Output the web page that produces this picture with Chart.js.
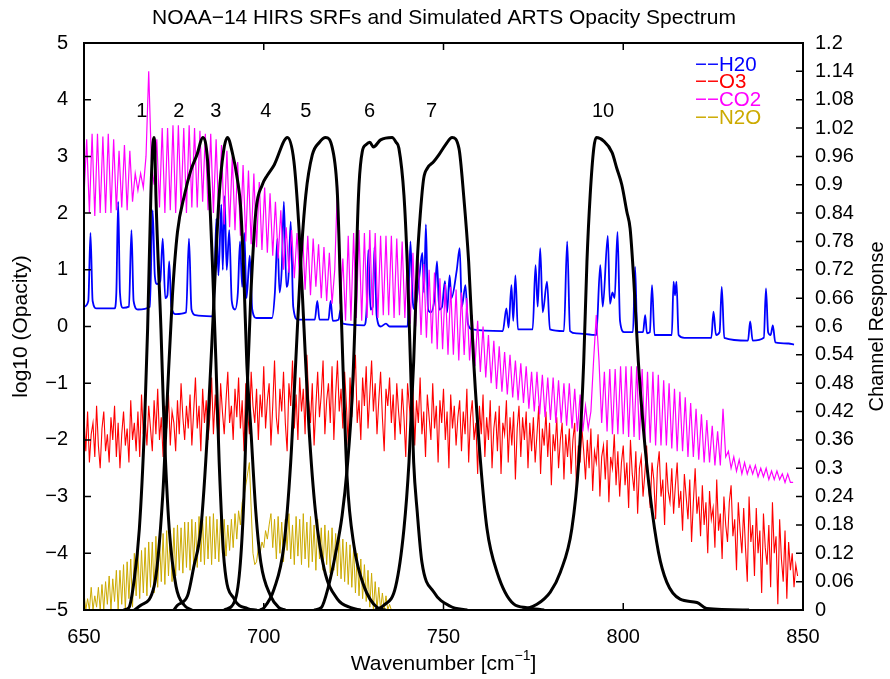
<!DOCTYPE html>
<html>
<head>
<meta charset="utf-8">
<script src="https://cdn.jsdelivr.net/npm/chart.js@4/dist/chart.umd.min.js"></script>
<style>html,body{margin:0;padding:0;background:#fff}</style>
</head>
<body>
<canvas id="chart" width="890" height="679"></canvas>
<script>
const FONT = '"Liberation Sans", Arial, Helvetica, sans-serif';

// axis ticks
const xTicks = [650, 700, 750, 800, 850];
const leftTicks = [-5, -4, -3, -2, -1, 0, 1, 2, 3, 4, 5];
const rightTicks = [0, 0.06, 0.12, 0.18, 0.24, 0.3, 0.36, 0.42, 0.48, 0.54, 0.6, 0.66, 0.72, 0.78, 0.84, 0.9, 0.96, 1.02, 1.08, 1.14, 1.2];
const rightTickLabels = ['0','0.06','0.12','0.18','0.24','0.3','0.36','0.42','0.48','0.54','0.6','0.66','0.72','0.78','0.84','0.9','0.96','1.02','1.08','1.14','1.2'];

// channel labels (wavenumber, log10 opacity height)
const chNames = ['1', '2', '3', '4', '5', '6', '7', '10'];
const chLabelWn = [666.1, 676.4, 686.7, 700.6, 711.7, 729.4, 746.7, 794.4];
const chLabelY = 3.8;

// CO2 on a 0.75 cm-1 grid from 650
const co2Start = 650, co2Step = 0.75;
const co2Val = [
  2.3, 3.3, 2.0, 3.4, 1.95, 3.4, 2.0, 3.35,
  2.0, 3.4, 2.0, 3.3, 2.05, 3.1, 2.1, 3.2,
  2.05, 3.1, 2.2, 2.7, 2.4, 2.7, 2.45, 3.0,
  4.5, 2.9, 2.5, 3.3, 2.1, 3.5, 2.0, 3.5,
  2.05, 3.55, 2.0, 3.55, 2.1, 3.5, 2.0, 3.55,
  2.1, 3.5, 2.1, 3.45, 2.2, 3.4, 2.05, 3.4,
  2.0, 3.3, 1.9, 3.2, 1.8, 3.1, 1.75, 3.0,
  1.7, 2.9, 1.6, 2.85, 1.5, 2.75, 1.45, 2.7,
  1.4, 2.55, 1.35, 2.45, 1.3, 2.35, 1.25, 2.2,
  1.2, 2.05, 1.0, 1.75, 0.95, 1.7, 0.85, 1.65,
  0.8, 1.7, 0.65, 1.6, 0.55, 1.55, 0.7, 1.45,
  0.5, 1.4, 0.45, 1.3, 0.4, 1.0, 2.5, 0.4,
  1.2, 0.1, 1.6, 0.1, 1.65, 0.15, 1.7, 0.1,
  1.65, 0.15, 1.7, 0.2, 1.65, 0.15, 1.6, 0.2,
  1.6, 0.2, 1.6, 0.15, 1.55, 0.2, 1.5, 0.15,
  1.35, 0.05, 1.3, 0.0, 1.2, -0.15, 1.1, -0.2,
  1.0, -0.3, 0.95, -0.4, 0.85, -0.4, 0.75, -0.5,
  0.7, -0.5, 0.65, -0.6, 0.6, -0.5, 0.5, -0.6,
  0.2, -0.7, 0.1, -0.8, 0.0, -0.9, -0.15, -1.0,
  -0.25, -1.1, -0.35, -1.15, -0.45, -1.2, -0.5, -1.25,
  -0.6, -1.3, -0.65, -1.35, -0.7, -1.45, -0.8, -1.5,
  -0.8, -1.55, -0.85, -1.6, -0.9, -1.65, -0.9, -1.7,
  -0.95, -1.7, -1.0, -1.75, -1.0, -1.8, -1.1, -1.85,
  -1.2, -1.85, -1.4, -1.8, -1.5, -0.6, 0.2, -0.6,
  -1.7, -0.8, -1.85, -0.75, -1.9, -0.75, -1.9, -0.7,
  -1.9, -0.7, -1.95, -0.7, -1.95, -0.7, -2.0, -0.75,
  -2.0, -0.8, -2.05, -0.8, -2.1, -0.85, -2.1, -0.95,
  -2.1, -1.0, -2.15, -1.1, -2.2, -1.15, -2.2, -1.25,
  -2.3, -1.35, -2.3, -1.45, -2.35, -1.55, -2.4, -1.65,
  -2.4, -1.75, -2.45, -1.85, -2.45, -1.45, -2.3, -2.2,
  -2.5, -2.3, -2.55, -2.35, -2.6, -2.4, -2.6, -2.45,
  -2.6, -2.45, -2.65, -2.5, -2.65, -2.5, -2.7, -2.55,
  -2.7, -2.55, -2.7, -2.6, -2.75, -2.6, -2.75, -2.75
];

// O3 on a 0.5 cm-1 grid from 650
const o3Start = 650, o3Step = 0.5;
const o3Val = [
  -1.6, -2.2, -1.5, -2.4, -1.9, -1.7, -2.3, -1.4, -2.1, -2.5,
  -1.8, -1.5, -2.2, -1.9, -2.4, -1.6, -2.0, -1.4, -2.3, -1.7,
  -2.5, -1.9, -1.5, -2.1, -1.8, -2.4, -1.3, -2.0, -1.7, -2.2,
  -1.5, -2.3, -1.2, -1.9, -1.6, -2.1, -1.4, -1.8, -2.2, -1.3,
  -1.9, -1.1, -2.0, -1.6, -2.3, -1.4, -1.8, -1.2, -2.1, -1.5,
  -1.7, -2.2, -1.3, -1.9, -1.0, -1.6, -2.0, -1.4, -1.8, -1.2,
  -2.1, -1.5, -0.9, -1.8, -1.4, -2.2, -1.1, -1.7, -1.3, -2.0,
  -1.6, -0.9, -1.9, -1.2, -1.7, -2.1, -1.0, -1.5, -1.9, -1.3,
  -0.8, -1.7, -1.4, -2.0, -1.1, -1.6, -0.9, -1.8, -1.3, -2.2,
  -1.0, -1.5, -1.9, -0.8, -1.4, -1.7, -1.1, -2.0, -1.2, -1.6,
  -0.7, -1.8, -1.3, -1.0, -2.1, -1.4, -0.6, -1.6, -1.9, -1.1,
  -1.5, -0.8, -1.7, -2.2, -1.0, -1.4, -0.6, -1.8, -1.2, -2.0,
  -0.9, -1.5, -1.1, -1.9, -0.5, -1.3, -1.7, -1.0, -2.1, -1.4,
  -0.8, -1.6, -1.2, -0.6, -1.9, -1.3, -1.0, -1.7, -0.7, -2.0,
  -1.2, -0.6, -1.5, -1.1, -1.8, -0.8, -1.4, -2.1, -0.9, -1.6,
  -1.0, -0.5, -1.7, -1.3, -2.0, -0.9, -1.4, -0.7, -1.8, -1.2,
  -0.6, -1.5, -1.0, -1.9, -1.3, -0.8, -1.6, -2.2, -1.1, -1.4,
  -0.9, -1.7, -1.2, -2.0, -1.0, -1.5, -1.9, -1.1, -1.6, -2.3,
  -1.0, -1.4, -1.8, -1.1, -2.1, -1.3, -1.7, -0.9, -1.9, -1.5,
  -2.3, -1.2, -1.6, -2.0, -1.0, -1.8, -1.4, -2.4, -1.3, -1.7,
  -1.1, -2.0, -1.5, -2.5, -1.2, -1.8, -1.4, -2.1, -1.6, -1.3,
  -2.2, -1.5, -1.9, -1.1, -2.4, -1.6, -1.3, -2.0, -1.7, -2.6,
  -1.4, -1.9, -1.2, -2.3, -1.6, -2.0, -1.3, -2.5, -1.8, -1.5,
  -2.2, -1.4, -2.6, -1.7, -1.9, -1.3, -2.4, -1.6, -2.1, -1.5,
  -2.7, -1.8, -1.4, -2.3, -1.6, -2.0, -1.5, -2.5, -1.7, -2.2,
  -1.6, -2.4, -1.9, -1.4, -2.6, -1.8, -2.1, -1.5, -2.3, -1.7,
  -2.8, -1.9, -2.2, -1.6, -2.5, -2.0, -1.7, -2.7, -1.9, -2.3,
  -1.8, -2.6, -2.0, -1.7, -2.9, -2.1, -2.4, -1.8, -2.2, -2.7,
  -2.0, -2.5, -1.8, -2.9, -2.2, -2.4, -1.9, -3.0, -2.3, -2.1,
  -2.7, -2.0, -3.1, -2.3, -2.5, -1.9, -2.8, -2.2, -3.0, -2.4,
  -2.1, -2.8, -2.4, -3.2, -2.0, -2.6, -2.9, -2.2, -3.3, -2.5,
  -2.3, -3.0, -2.6, -2.1, -2.8, -3.2, -2.4, -2.7, -3.4, -2.5,
  -2.2, -3.0, -2.7, -3.5, -2.4, -2.9, -3.1, -2.5, -3.3, -2.8,
  -2.4, -3.2, -2.9, -3.6, -2.6, -3.0, -3.4, -2.7, -3.8, -3.1,
  -2.5, -3.3, -3.0, -3.7, -2.8, -3.5, -3.1, -4.0, -2.9, -3.4,
  -3.2, -3.9, -2.7, -3.6, -3.3, -4.1, -3.0, -3.5, -3.8, -3.1,
  -2.8, -3.7, -3.4, -4.3, -3.1, -3.6, -4.0, -3.2, -3.9, -4.5,
  -3.0, -3.8, -3.5, -4.4, -3.2, -4.0, -3.6, -4.7, -3.3, -3.9,
  -4.2, -3.5, -4.6, -3.1, -4.0, -3.7, -4.9, -3.4, -4.1, -4.5,
  -3.6, -4.8, -3.8, -4.3, -4.0, -4.6, -4.2, -4.4
];

// N2O on a 0.5 cm-1 grid from 650
const n2oStart = 650, n2oStep = 0.5;
const n2oVal = [
  -4.7, -5.0, -4.8, -5.0, -4.6, -5.0, -4.75, -4.95, -4.6, -5.0,
  -4.55, -5.0, -4.5, -4.9, -4.4, -5.0, -4.45, -4.85, -4.3, -5.0,
  -4.3, -4.9, -4.2, -5.0, -4.15, -4.8, -4.1, -4.95, -4.0, -4.75,
  -4.0, -4.8, -3.95, -4.7, -3.9, -4.75, -3.8, -4.6, -3.8, -4.7,
  -3.7, -4.6, -3.75, -4.5, -3.65, -4.55, -3.6, -4.4, -3.6, -4.5,
  -3.55, -4.4, -3.5, -4.3, -3.55, -4.35, -3.45, -4.25, -3.45, -4.3,
  -3.4, -4.2, -3.45, -4.25, -3.35, -4.15, -3.4, -4.2, -3.35, -4.1,
  -3.35, -4.2, -3.3, -4.1, -3.4, -4.15, -3.35, -4.0, -3.4, -4.05,
  -3.5, -3.95, -3.4, -3.9, -3.3, -3.75, -3.25, -3.5, -3.1, -3.0,
  -2.8, -2.6, -2.4, -3.2, -4.0, -4.2, -4.15, -3.9, -4.0, -3.8,
  -3.9, -3.6, -3.75, -3.5, -3.3, -3.9, -3.4, -4.1, -3.35, -4.0,
  -3.45, -4.15, -3.4, -3.95, -3.3, -4.1, -3.5, -4.2, -3.35, -4.05,
  -3.4, -4.2, -3.3, -4.1, -3.45, -4.25, -3.35, -4.15, -3.5, -4.3,
  -3.4, -4.1, -3.55, -4.3, -3.5, -4.2, -3.6, -4.35, -3.55, -4.3,
  -3.65, -4.4, -3.6, -4.45, -3.75, -4.5, -3.8, -4.55, -3.85, -4.6,
  -3.9, -4.7, -4.0, -4.75, -4.1, -4.8, -4.2, -4.85, -4.3, -4.95,
  -4.35, -5.0, -4.5, -5.0, -4.6, -5.0, -4.7, -5.0, -4.75, -5.0,
  -4.9, -5.0, -5.0
];

// water vapour: baseline with sharp lines [wavenumber, log10 opacity]
const h2oPts = [
  [650,0.35],[651.2,0.45],[651.8,1.65],[652.4,0.45],[653.5,0.32],[658.5,0.32],[659,0.6],[659.5,2.2],[660,0.6],[660.8,0.33],
  [662.5,0.35],[663.2,1.7],[663.8,0.45],[665,0.3],[668.3,0.35],[669.1,2.05],[669.7,0.9],[670.3,0.75],[671.2,0.8],[671.9,1.55],
  [672.6,0.5],[673.2,0.55],[673.7,1.15],[674.3,0.35],[675.5,0.22],[678.4,0.25],[679.2,1.55],[679.9,0.3],[681,0.2],[685.5,0.18],
  [686.2,0.5],[686.8,1.9],[687.4,0.9],[688.2,2.15],[688.6,1.0],[689.1,2.3],[689.7,1.0],[690.4,1.7],[691.1,0.45],[692,0.3],
  [692.8,0.6],[693.4,1.5],[694,0.7],[694.6,1.65],[695.2,0.5],[696.1,1.25],[696.8,0.3],[698,0.15],[702.3,0.15],[703.1,0.6],
  [703.8,1.55],[704.4,0.6],[705,1.0],[705.6,2.2],[706.3,0.7],[706.9,0.9],[707.5,1.85],[708.2,0.35],[709.5,0.12],[714.2,0.12],
  [714.9,0.45],[715.5,0.12],[718,0.12],[718.6,0.45],[719.2,0.1],[720.8,0.12],[721.4,0.3],[722,0.05],[728,0.02],[728.6,0.3],
  [729.1,1.35],[729.7,0.3],[730.3,0.35],[730.8,1.4],[731.4,0.2],[732.5,0.0],[734,0.05],[735,0.0],[740,0.0],[740.8,1.5],
  [741.4,0.5],[742,0.3],[743.3,0.9],[744.1,1.3],[744.6,0.6],[745.1,1.8],[745.7,0.3],[746.5,0.25],[747.5,0.5],[748.2,1.15],
  [748.8,0.3],[749.6,0.35],[750.4,0.8],[751,0.25],[751.7,0.9],[752.2,0.5],[753.7,1.0],[754.5,1.38],[755.1,0.35],[756.1,0.73],
  [756.8,0.05],[758,-0.05],[766.5,-0.08],[767.5,0.32],[768.1,-0.02],[768.9,0.73],[769.4,0.1],[770,0.9],[770.7,-0.05],[774.8,-0.05],
  [775.6,1.08],[776.2,0.35],[776.9,1.38],[777.6,0.25],[778.8,0.79],[779.6,-0.05],[783.5,-0.08],[784.4,1.5],[785.2,-0.08],[787,-0.12],
  [792.5,-0.15],[793.6,1.08],[794.3,0.35],[795.7,1.6],[796.3,0.4],[797,0.6],[797.6,0.5],[798.4,1.67],[799.1,0.1],[800.3,-0.1],
  [802.7,-0.1],[803.3,1.05],[803.9,-0.1],[805.5,-0.1],[806.1,0.2],[806.6,-0.12],[807.4,-0.1],[808,0.73],[808.7,-0.15],[813.5,-0.15],
  [814,0.79],[814.4,0.55],[814.8,0.79],[815.4,-0.15],[817,-0.2],[824.5,-0.2],[825.1,0.26],[825.8,-0.15],[826.8,-0.1],[827.4,0.7],
  [828.1,-0.2],[834.7,-0.25],[835.3,0.09],[836,-0.25],[839.1,-0.2],[839.7,0.67],[840.3,-0.1],[841,-0.15],[841.6,0.02],[842.3,-0.28],
  [846,-0.3],[847.5,-0.32]
];

// HIRS channel spectral response functions [wavenumber, response]
const srf1 = [[661,0],[662.5,0.005],[664,0.066],[665.4,0.172],[666.8,0.384],[667.7,0.596],[668.6,0.878],[669.1,0.98],[669.4,1.0],[669.7,0.98],[670,0.878],[671.4,0.596],[672.3,0.384],[673.7,0.172],[675.6,0.05],[677.9,0.01],[680,0]];
const srf2 = [[664,0],[665.8,0.01],[669.5,0.05],[671.9,0.242],[673.2,0.454],[674.6,0.666],[676,0.8],[678,0.88],[679.7,0.93],[681.5,0.965],[683,1.0],[684.4,0.949],[685.7,0.737],[686.7,0.525],[687.6,0.313],[689,0.101],[691.8,0.023],[695.5,0.003],[698,0]];
const srf3 = [[675,0],[676,0.01],[678.8,0.03],[680.5,0.09],[682.5,0.172],[684.4,0.384],[686.2,0.666],[687.6,0.878],[688.8,0.97],[689.9,1.0],[691.2,0.97],[692.7,0.91],[693.6,0.85],[694.5,0.7],[695.3,0.52],[696.4,0.384],[697.8,0.207],[699.2,0.1],[701.9,0.03],[704.2,0.005],[706,0]];
const srf4 = [[689,0],[692,0.02],[693.5,0.1],[694.5,0.242],[695.5,0.49],[696.4,0.666],[697.8,0.843],[699.6,0.9],[701,0.92],[702.9,0.942],[706.6,1.0],[708.4,0.949],[709.8,0.808],[711.2,0.596],[712.6,0.384],[714.4,0.207],[716.8,0.087],[720.5,0.023],[724.2,0.005],[727,0]];
const srf5 = [[699,0],[700.1,0.005],[702.9,0.045],[705.6,0.136],[707.5,0.313],[708.9,0.525],[710.3,0.737],[711.7,0.878],[713.5,0.963],[715.5,0.99],[717.2,1.0],[719.1,0.977],[720.5,0.878],[721.4,0.666],[722.3,0.454],[723.2,0.278],[725.1,0.136],[727.9,0.05],[731.6,0.005],[734,0]];
const srf6 = [[714,0],[716,0.005],[718,0.05],[720,0.12],[721.8,0.2],[723.2,0.3],[724.6,0.454],[725.6,0.666],[726,0.8],[726.5,0.9],[727.4,0.97],[728.5,0.985],[729.5,0.99],[730.5,0.98],[732.5,0.995],[735.7,1.0],[736.8,0.99],[737.6,0.977],[739,0.878],[739.9,0.737],[740.8,0.525],[741.7,0.313],[742.7,0.207],[744,0.101],[747.3,0.038],[751.9,0.008],[756.6,0]];
const srf7 = [[731,0],[733.4,0.01],[736.7,0.05],[739,0.172],[740.4,0.313],[741.7,0.525],[742.7,0.737],[743.6,0.843],[744.5,0.914],[745.5,0.935],[747.3,0.949],[748.7,0.963],[750.6,0.985],[752.4,1.0],[754.3,0.977],[755.6,0.878],[757,0.737],[758.4,0.525],[760.3,0.313],[762.1,0.172],[764.9,0.08],[769.5,0.013],[773.2,0.005],[778,0]];
const srf10 = [[772,0],[776,0.012],[779.7,0.038],[782.5,0.08],[785.7,0.172],[787.6,0.313],[789,0.525],[789.9,0.737],[790.8,0.878],[791.8,0.977],[792.5,1.0],[794.5,0.993],[796.9,0.968],[798.2,0.935],[799.6,0.9],[801,0.843],[801.9,0.808],[802.9,0.702],[804.2,0.525],[805.6,0.384],[807.5,0.242],[809.8,0.122],[812.1,0.059],[815.8,0.023],[820.5,0.016],[823.2,0.003],[835,0]];

const legendNames = ['H20', 'O3', 'CO2', 'N2O'];
const legendColors = ['#0000ff', '#ff0000', '#ff00ff', '#ccaa00'];

function onGrid(vals, start, step) {
  return vals.map((v, i) => ({ x: start + i * step, y: v }));
}
function pairs(arr) {
  return arr.map(p => ({ x: p[0], y: p[1] }));
}

function srfSet(arr) {
  return { data: pairs(arr), yAxisID: 'y2', borderColor: '#000', borderWidth: 3, pointRadius: 0, cubicInterpolationMode: 'monotone' };
}

const datasets = [
  srfSet(srf1), srfSet(srf2), srfSet(srf3), srfSet(srf4), srfSet(srf5), srfSet(srf6), srfSet(srf7), srfSet(srf10),
  { data: onGrid(n2oVal, n2oStart, n2oStep), yAxisID: 'y', borderColor: legendColors[3], borderWidth: 1, pointRadius: 0 },
  { data: onGrid(co2Val, co2Start, co2Step), yAxisID: 'y', borderColor: legendColors[2], borderWidth: 1.2, pointRadius: 0 },
  { data: onGrid(o3Val, o3Start, o3Step), yAxisID: 'y', borderColor: legendColors[1], borderWidth: 1.1, pointRadius: 0 },
  { data: pairs(h2oPts), yAxisID: 'y', borderColor: legendColors[0], borderWidth: 1.8, pointRadius: 0, cubicInterpolationMode: 'monotone' }
];

const decor = {
  id: 'decor',
  afterDraw(chart) {
    const { ctx, chartArea: a, scales } = chart;
    const sx = scales.x, sy = scales.y, sy2 = scales.y2;
    ctx.save();
    ctx.strokeStyle = '#000';
    ctx.lineWidth = 1.5;
    // tick marks pointing inwards
    ctx.beginPath();
    xTicks.forEach(v => {
      const px = sx.getPixelForValue(v);
      ctx.moveTo(px, a.bottom); ctx.lineTo(px, a.bottom - 7);
      ctx.moveTo(px, a.top); ctx.lineTo(px, a.top + 7);
    });
    leftTicks.forEach(v => {
      const py = sy.getPixelForValue(v);
      ctx.moveTo(a.left, py); ctx.lineTo(a.left + 7, py);
    });
    rightTicks.forEach(v => {
      const py = sy2.getPixelForValue(v);
      ctx.moveTo(a.right, py); ctx.lineTo(a.right - 7, py);
    });
    ctx.stroke();
    // frame
    ctx.lineWidth = 2;
    ctx.strokeRect(a.left, a.top, a.right - a.left, a.bottom - a.top);

    ctx.fillStyle = '#000';
    ctx.font = '21px ' + FONT;
    ctx.textAlign = 'center';
    ctx.textBaseline = 'middle';
    ctx.fillText('NOAA\u221214 HIRS SRFs and Simulated ARTS Opacity Spectrum', 444, 18);

    // channel numbers
    ctx.font = '20px ' + FONT;
    chNames.forEach((n, i) => {
      ctx.fillText(n, sx.getPixelForValue(chLabelWn[i]), sy.getPixelForValue(chLabelY));
    });

    // x axis title with superscript
    const t1 = 'Wavenumber [cm', sup = '\u22121', t2 = ']';
    ctx.font = '21px ' + FONT;
    const w1 = ctx.measureText(t1).width, w3 = ctx.measureText(t2).width;
    ctx.font = '14px ' + FONT;
    const w2 = ctx.measureText(sup).width;
    const x0 = (a.left + a.right) / 2 - (w1 + w2 + w3) / 2;
    ctx.textAlign = 'left';
    ctx.font = '21px ' + FONT;
    ctx.fillText(t1, x0, 664);
    ctx.font = '14px ' + FONT;
    ctx.fillText(sup, x0 + w1, 656);
    ctx.font = '21px ' + FONT;
    ctx.fillText(t2, x0 + w1 + w2, 664);

    // y axis titles
    ctx.textAlign = 'center';
    ctx.save();
    ctx.translate(21, (a.top + a.bottom) / 2);
    ctx.rotate(-Math.PI / 2);
    ctx.fillText('log10 (Opacity)', 0, 0);
    ctx.restore();
    ctx.save();
    ctx.translate(877, (a.top + a.bottom) / 2);
    ctx.rotate(-Math.PI / 2);
    ctx.font = '20px ' + FONT;
    ctx.fillText('Channel Response', 0, 0);
    ctx.restore();

    // legend
    ctx.textAlign = 'left';
    ctx.font = '20.5px ' + FONT;
    legendNames.forEach((n, i) => {
      ctx.fillStyle = legendColors[i];
      ctx.fillText('\u2212\u2212' + n, 695, 65 + i * 17.8);
    });
    ctx.restore();
  }
};

const tickFont = { family: FONT, size: 20 };

new Chart(document.getElementById('chart').getContext('2d'), {
  type: 'line',
  data: { datasets },
  options: {
    responsive: false,
    animation: false,
    devicePixelRatio: 1,
    parsing: false,
    layout: { padding: { top: 43, left: 0, right: 0, bottom: 0 } },
    plugins: { legend: { display: false }, title: { display: false }, tooltip: { enabled: false } },
    elements: { point: { radius: 0 }, line: { tension: 0 } },
    scales: {
      x: {
        type: 'linear', position: 'bottom', min: 650, max: 850,
        grid: { display: false, drawTicks: false }, border: { display: false },
        ticks: { font: tickFont, color: '#000', padding: 15, maxRotation: 0 },
        afterBuildTicks: s => { s.ticks = xTicks.map(v => ({ value: v })); },
        afterFit: s => { s.height = 69; }
      },
      y: {
        type: 'linear', position: 'left', min: -5, max: 5,
        grid: { display: false, drawTicks: false }, border: { display: false },
        ticks: { font: tickFont, color: '#000', padding: 16, callback: v => String(v).replace('-', '\u2212') },
        afterBuildTicks: s => { s.ticks = leftTicks.map(v => ({ value: v })); },
        afterFit: s => { s.width = 84; }
      },
      y2: {
        type: 'linear', position: 'right', min: 0, max: 1.2,
        grid: { display: false, drawTicks: false }, border: { display: false },
        ticks: { font: tickFont, color: '#000', padding: 12, callback: (v, i) => rightTickLabels[i] },
        afterBuildTicks: s => { s.ticks = rightTicks.map(v => ({ value: v })); },
        afterFit: s => { s.width = 87; }
      }
    }
  },
  plugins: [decor]
});
</script>
</body>
</html>
